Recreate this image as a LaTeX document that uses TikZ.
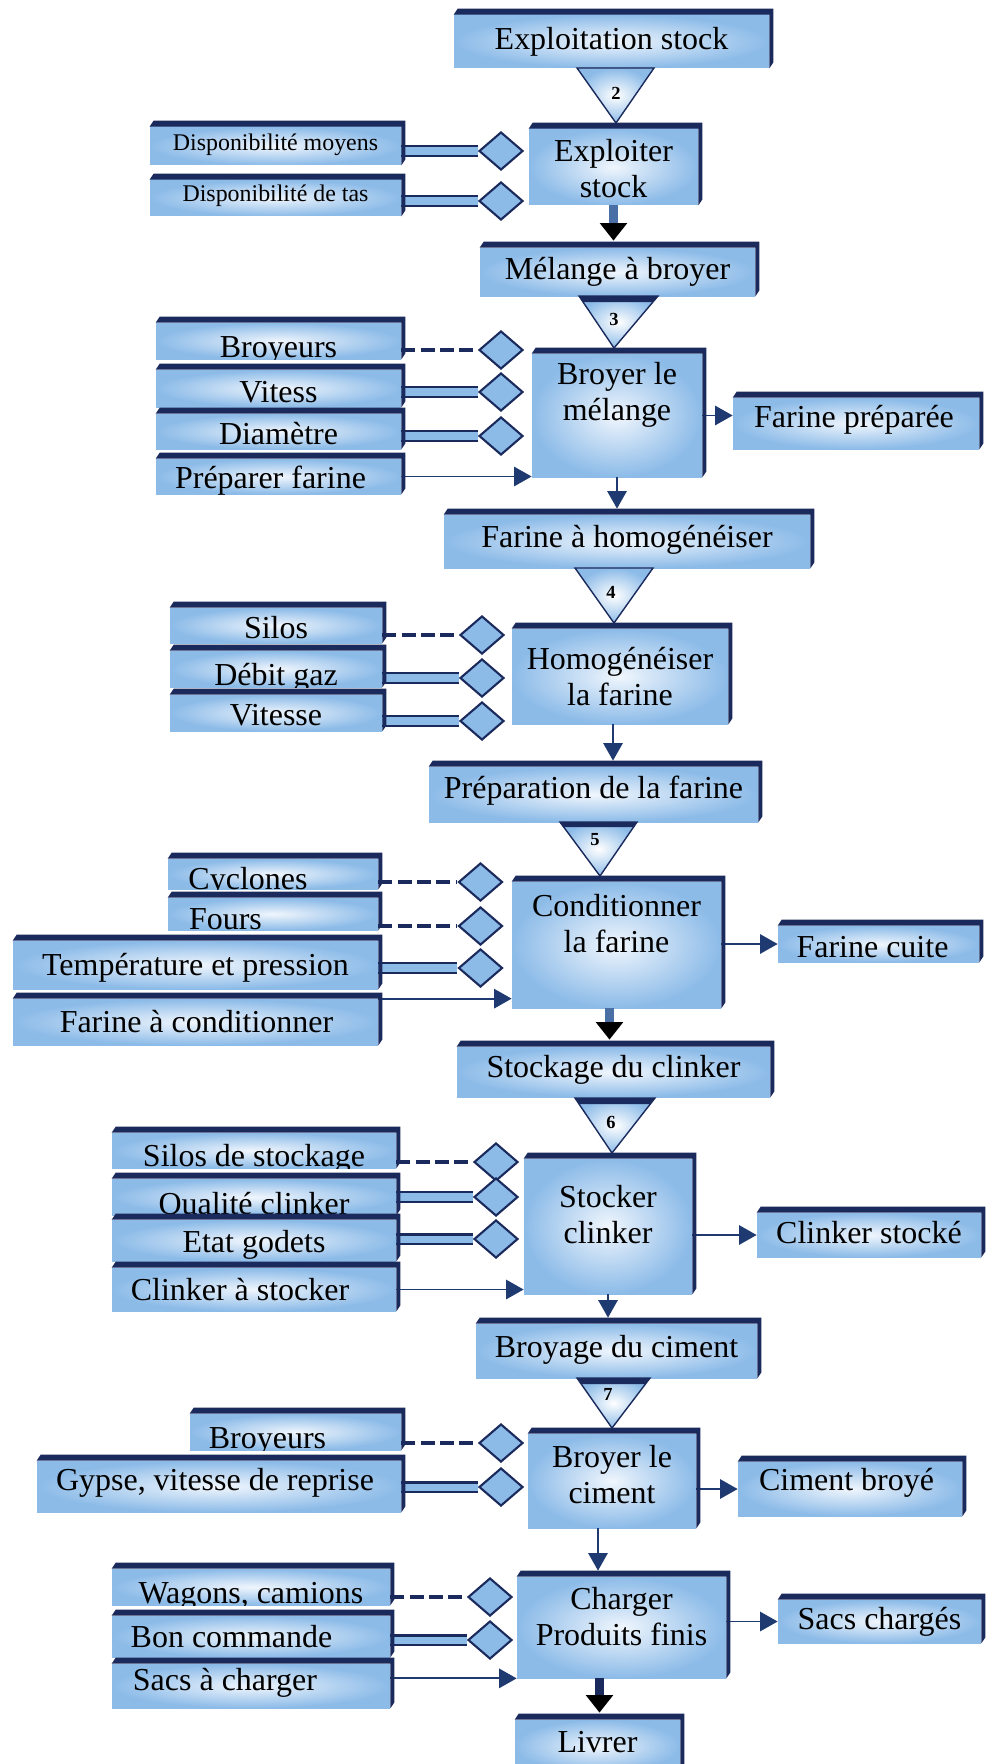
\documentclass[tikz,border=0pt]{standalone}
\usepackage{fontspec}
\setmainfont{Liberation Serif}
\usepackage{xcolor}
\definecolor{navy}{HTML}{1B2A5C}
\definecolor{sky}{HTML}{8CBBE8}
\definecolor{mist}{HTML}{F0F6FD}
\definecolor{ink}{HTML}{1F3A70}
\definecolor{steel}{HTML}{4A6FA5}
\usepackage{tikz}
\usetikzlibrary{arrows.meta, shapes.geometric}
\newlength{\pu}
\setlength{\pu}{0.02cm}
\newcommand{\lblbig}{\fontsize{18.2}{20.5}\selectfont}
\newcommand{\lblsmall}{\fontsize{13.6}{16}\selectfont}

\begin{document}
\begin{tikzpicture}[x=\pu, y=-\pu,
  lx/.store in=\lblx, ly/.store in=\lbly, lf/.store in=\lblfont,
  lx=0, ly=0, lf=\lblbig,
  sz/.style 2 args={minimum width=#1\pu, minimum height=#2\pu},
  bx/.style={rectangle, inner sep=0pt, inner color=mist, outer color=sky,
    path picture={\node[font=\lblfont, align=center]
      at ([xshift=\lblx\pu, yshift=\lbly\pu]path picture bounding box.center) {#1};}},
  dia/.style={diamond, draw=navy, line width=1.2pt, fill=sky, inner sep=0pt,
    minimum width=44\pu, minimum height=38\pu},
  tri/.style={draw=navy, line width=0.8pt, inner color=white, outer color=sky},
  num/.style={font=\bfseries\fontsize{10.5}{12}\selectfont},
  arr/.style={draw=ink, line width=1.1pt, -{Triangle[length=10pt, width=11pt]}},
  dbl/.style={draw=navy, line width=1.3pt, double=sky, double distance=4pt},
  dsh/.style={draw=navy, line width=1.8pt, dash pattern=on 8pt off 3pt},
  fat/.style={draw=steel, line width=5pt, -{Triangle[length=10pt, width=15pt, black]}}]
  \useasboundingbox (0,0) rectangle (985,1764);

  % --- Exploiter stock ---
  \node[bx={Exploitation stock}, sz={315}{53}] (es) at (611.5,41.5) {};
  \filldraw[tri] (577,68) -- (654,68) -- (616,123) -- cycle;
  \node[num] (n2) at (616,93) {2};
  \node[bx={Exploiter\\stock}, ly=-2, sz={169}{76}] (ex) at (613.5,167) {};
  \node[bx={Disponibilité moyens}, lf=\lblsmall, ly=1.5, sz={251}{38}] (dm) at (275.5,146) {};
  \node[bx={Disponibilité de tas}, lf=\lblsmall, ly=2, sz={251}{36}] (dt) at (275.5,198) {};
  \node[dia] (v1) at (501,151) {};
  \node[dia] (v2) at (501,201) {};
  \draw[dbl] (dm.east |- v1) -- (v1.west);
  \draw[dbl] (dt.east |- v2) -- (v2.west);

  % --- Broyer le melange ---
  \node[bx={Mélange à broyer}, sz={275}{48}] (mel) at (617.5,272) {};
  \draw[fat, shorten >=7\pu] (ex.south) -- (ex.south |- mel.north);
  \filldraw[tri] (579,296) -- (658,296) -- (614,348) -- cycle;
  \fill[navy] (579,296) -- (658,296) -- (653,302) -- (583,302) -- cycle;
  \node[num] (n3) at (614,319) {3};
  \node[bx={Broyer le\\mélange}, ly=21, sz={170}{123}] (bm) at (617,415.5) {};
  \node[bx={Broyeurs}, ly=-9, sz={245}{36}] (by1) at (278.5,341) {};
  \node[bx={Vitess}, ly=-3.5, sz={245}{37}] (vi) at (278.5,388.5) {};
  \node[bx={Diamètre}, ly=-2.5, sz={245}{35}] (di) at (278.5,431.5) {};
  \node[bx={Préparer farine}, lx=-8, ly=-4, sz={245}{35}] (pf) at (278.5,476.5) {};
  \node[dia] (v3) at (501,350) {};
  \node[dia] (v4) at (501,392) {};
  \node[dia] (v5) at (501,436) {};
  \node[bx={Farine préparée}, lx=-2, ly=3.5, sz={246}{51}] (fp) at (856,423.5) {};
  \draw[dsh] (by1.east |- v3) -- (v3.west);
  \draw[dbl] (vi.east |- v4) -- (v4.west);
  \draw[dbl] (di.east |- v5) -- (v5.west);
  \draw[arr] (pf.east) -- (pf.east -| bm.west);
  \draw[arr] (bm.east) -- (bm.east -| fp.west);

  % --- Homogeneiser la farine ---
  \node[bx={Farine à homogénéiser}, ly=1.5, sz={366}{53}] (fh) at (627,541.5) {};
  \draw[arr, shorten >=6\pu] (bm.south) -- (bm.south |- fh.north);
  \filldraw[tri] (575,568) -- (653,568) -- (614,623) -- cycle;
  \node[num] (n4) at (611,592) {4};
  \node[bx={Homogénéiser\\la farine}, sz={216}{95}] (hf) at (620,676.5) {};
  \node[bx={Silos}, ly=-2.5, sz={212}{35}] (si) at (276,625.5) {};
  \node[bx={Débit gaz}, ly=-9, sz={212}{36}] (dg) at (276,669) {};
  \node[bx={Vitesse}, ly=-2, sz={212}{36}] (vt) at (276,713) {};
  \node[dia] (v6) at (482,635) {};
  \node[dia] (v7) at (482,678) {};
  \node[dia] (v8) at (482,721) {};
  \draw[dsh] (si.east |- v6) -- (v6.west);
  \draw[dbl] (dg.east |- v7) -- (v7.west);
  \draw[dbl] (vt.east |- v8) -- (v8.west);
  \node[bx={Préparation de la farine}, ly=4, sz={329}{55}] (pp) at (593.5,794.5) {};
  \draw[arr, shorten >=6\pu] ([xshift=-7\pu]hf.south) -- ([xshift=-7\pu]hf.south |- pp.north);

  % --- Conditionner la farine ---
  \filldraw[tri] (560,822) -- (637,822) -- (600,876) -- cycle;
  \fill[navy] (560,822) -- (637,822) -- (634,827) -- (563,827) -- cycle;
  \node[num] (n5) at (595,840) {5};
  \node[bx={Conditionner\\la farine}, ly=21, sz={209}{126}] (cf) at (616.5,945) {};
  \node[bx={Cyclones}, lx=-25, ly=-8, sz={210}{30}] (cy) at (273,874) {};
  \node[bx={Fours}, lx=-47.5, ly=-5.5, sz={210}{32}] (fo) at (273,914) {};
  \node[bx={Température et pression}, ly=-2.5, sz={365}{48}] (tp) at (195.5,965) {};
  \node[bx={Farine à conditionner}, lx=1, sz={365}{46}] (fc) at (195.5,1022) {};
  \node[dia] (v9) at (480.5,882) {};
  \node[dia] (v10) at (480.5,926) {};
  \node[dia] (v11) at (480.5,968) {};
  \node[bx={Farine cuite}, lx=-6, ly=-3.5, sz={201}{36}] (fcu) at (878.5,944) {};
  \draw[dsh] (cy.east |- v9) -- (v9.west);
  \draw[dsh] (fo.east |- v10) -- (v10.west);
  \draw[dbl] (tp.east |- v11) -- (v11.west);
  \draw[arr] (fc.north east) -- (fc.north east -| cf.west);
  \draw[arr] (fcu.west -| cf.east) -- (fcu.west);
  \node[bx={Stockage du clinker}, ly=2, sz={313}{50}] (sk) at (613.5,1072) {};
  \draw[fat, shorten >=7\pu] ([xshift=-7\pu]cf.south) -- ([xshift=-7\pu]cf.south |- sk.north);

  % --- Stocker clinker ---
  \filldraw[tri] (575,1098) -- (655,1098) -- (612,1153) -- cycle;
  \fill[navy] (575,1098) -- (655,1098) -- (650,1104) -- (579,1104) -- cycle;
  \node[num] (n6) at (611,1122) {6};
  \node[bx={Stocker\\clinker}, ly=11.5, sz={168}{135}] (sc) at (608,1226.5) {};
  \node[bx={Silos de stockage}, ly=-8, sz={284}{35}] (ss) at (254,1150.5) {};
  \node[bx={Qualité clinker}, ly=-9, sz={284}{36}] (qc) at (254,1197) {};
  \node[bx={Etat godets}, ly=-4.5, sz={284}{41}] (eg) at (254,1240.5) {};
  \node[bx={Clinker à stocker}, lx=-14, sz={284}{43}] (cs) at (254,1289.5) {};
  \node[dia] (v12) at (496,1162) {};
  \node[dia] (v13) at (496,1197) {};
  \node[dia] (v14) at (496,1239) {};
  \node[bx={Clinker stocké}, ly=2, sz={224}{44}] (cst) at (869,1235) {};
  \draw[dsh] (ss.east |- v12) -- (v12.west);
  \draw[dbl] (qc.east |- v13) -- (v13.west);
  \draw[dbl] (eg.east |- v14) -- (v14.west);
  \draw[arr] (cs.east) -- (cs.east -| sc.west);
  \draw[arr] (cst.west -| sc.east) -- (cst.west);
  \node[bx={Broyage du ciment}, ly=1, sz={281}{54}] (bc) at (616.5,1351) {};
  \draw[arr, shorten >=6\pu] (sc.south) -- (sc.south |- bc.north);

  % --- Broyer le ciment ---
  \filldraw[tri] (577,1378) -- (650,1378) -- (612,1428) -- cycle;
  \fill[navy] (577,1378) -- (650,1378) -- (645,1384) -- (581,1384) -- cycle;
  \node[num] (n7) at (608,1394) {7};
  \node[bx={Broyer le\\ciment}, ly=6, sz={168}{94}] (bci) at (612,1481) {};
  \node[bx={Broyeurs}, lx=-28, ly=-9, sz={211}{36}] (by2) at (295.5,1432) {};
  \node[bx={Gypse, vitesse de reprise}, lx=-4, ly=4, sz={364}{51}] (gy) at (219,1486.5) {};
  \node[dia] (v15) at (501,1443) {};
  \node[dia] (v16) at (501,1487) {};
  \node[bx={Ciment broyé}, lx=-3.5, ly=6, sz={224}{54}] (cb) at (850,1489) {};
  \draw[dsh] (by2.east |- v15) -- (v15.west);
  \draw[dbl] (gy.east |- v16) -- (v16.west);
  \draw[arr] (cb.west -| bci.east) -- (cb.west);

  % --- Charger produits finis ---
  \node[bx={Charger\\Produits finis}, ly=11, sz={209}{101}] (cpf) at (621.5,1627.5) {};
  \draw[arr, shorten >=6\pu] ([xshift=-14\pu]bci.south) -- ([xshift=-14\pu]bci.south |- cpf.north);
  \node[bx={Wagons, camions}, ly=-9, sz={278}{36}] (wc) at (251,1587) {};
  \node[bx={Bon commande}, lx=-19.5, sz={278}{41}] (bo) at (251,1636.5) {};
  \node[bx={Sacs à charger}, lx=-26, ly=3.5, sz={278}{44}] (sa) at (251,1686) {};
  \node[dia] (v17) at (490,1597) {};
  \node[dia] (v18) at (490,1640) {};
  \node[bx={Sacs chargés}, sz={203}{43}] (sch) at (879.5,1621.5) {};
  \draw[dsh] (wc.east |- v17) -- (v17.west);
  \draw[dbl] (bo.east |- v18) -- (v18.west);
  \draw[arr] (sa.east |- cpf.south west) -- (cpf.south west);
  \draw[arr] (sch.west -| cpf.east) -- (sch.west);
  \node[bx={Livrer}, ly=4, sz={165}{52}] (lv) at (597.5,1746) {};
  \draw[fat, draw=navy, shorten >=7\pu] ([xshift=-22\pu]cpf.south) -- ([xshift=-22\pu]cpf.south |- lv.north);

  % --- dark top and right faces of every box ---
  \foreach \b in {es,ex,dm,dt,mel,bm,by1,vi,di,pf,fp,fh,hf,si,dg,vt,pp,cf,cy,fo,tp,fc,fcu,
                  sk,sc,ss,qc,eg,cs,cst,bc,bci,by2,gy,cb,cpf,wc,bo,sa,sch,lv}
    \fill[navy] (\b.north west) -- ([shift={(4\pu,6\pu)}]\b.north west)
      -- ([shift={(4\pu,6\pu)}]\b.north east) -- ([shift={(4\pu,6\pu)}]\b.south east)
      -- (\b.south east) -- (\b.north east) -- cycle;
\end{tikzpicture}
\end{document}
